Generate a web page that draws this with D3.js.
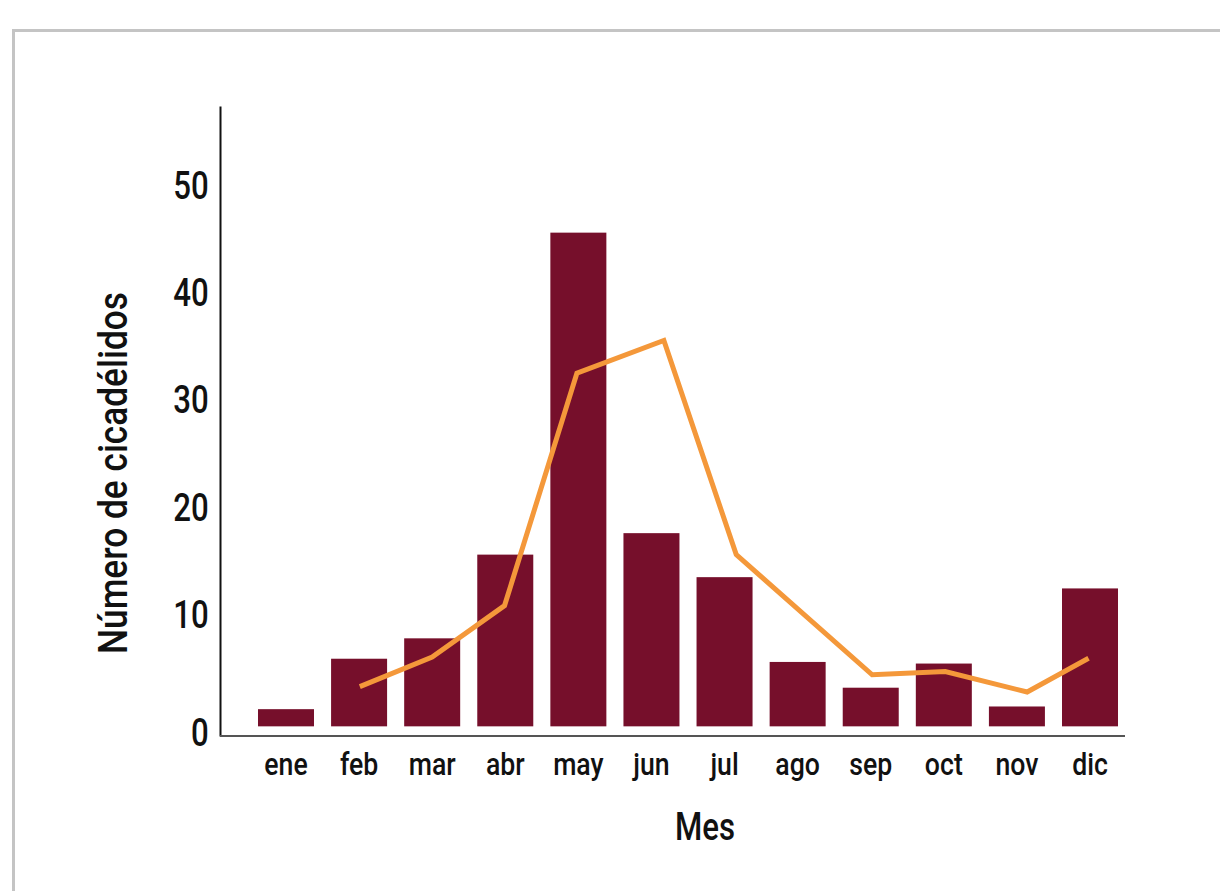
<!DOCTYPE html>
<html lang="es">
  <head>
    <meta charset="UTF-8" />
    <title>Cicadélidos por mes</title>
    <script src="https://d3js.org/d3.v7.min.js"></script>
    <style>
      body {
        margin: 0;
        background: #fff;
      }
      svg {
        display: block;
        font-family: Roboto, sans-serif;
        font-weight: 500;
      }
      .axis text {
        fill: #111;
      }
    </style>
  </head>
  <body>
    <svg id="chart" width="1220" height="891"></svg>

    <script>
      // Data
      const months = ["ene", "feb", "mar", "abr", "may", "jun", "jul", "ago", "sep", "oct", "nov", "dic"];
      const barValues = [1.6, 6.3, 8.2, 16.0, 46.0, 18.0, 13.9, 6.0, 3.6, 5.85, 1.85, 12.85];
      // line points sit at fractional month positions (0 = ene)
      const linePos = [1.01, 2.0, 2.99, 3.98, 5.17, 6.16, 8.02, 9.02, 10.14, 10.98];
      const lineValues = [3.7, 6.45, 11.25, 32.9, 35.95, 16.0, 4.8, 5.1, 3.2, 6.35];
      const yTicks = [0, 10, 20, 30, 40, 50];

      // narrow the glyphs, the original font is condensed
      const squeeze = "scale(0.8,1)";
      const squeezeWide = "scale(0.86,1)";

      const svg = d3.select("#chart");

      // outer frame
      svg
        .append("rect")
        .attr("x", 13.5)
        .attr("y", 30.5)
        .attr("width", 1300)
        .attr("height", 1000)
        .attr("fill", "none")
        .attr("stroke", "#c4c4c4")
        .attr("stroke-width", 3);

      const x = d3
        .scaleBand()
        .domain(months)
        .range([249.45, 1126.55])
        .paddingInner(0.2338)
        .paddingOuter(0.1169);

      const y = d3.scaleLinear().domain([-0.9, 57.8]).range([736, 106]);

      const xPos = d3
        .scaleLinear()
        .domain([0, months.length - 1])
        .range([x(months[0]) + x.bandwidth() / 2, x(months[11]) + x.bandwidth() / 2]);

      // bars
      svg
        .append("g")
        .selectAll("rect")
        .data(barValues)
        .enter()
        .append("rect")
        .attr("x", (d, i) => x(months[i]))
        .attr("y", (d) => y(d))
        .attr("width", x.bandwidth())
        .attr("height", (d) => y(0) - y(d))
        .attr("fill", "#760F2B");

      // line
      const line = d3
        .line()
        .x((d) => xPos(d[0]))
        .y((d) => y(d[1]));

      svg
        .append("path")
        .datum(linePos.map((p, i) => [p, lineValues[i]]))
        .attr("d", line)
        .attr("fill", "none")
        .attr("stroke", "#F4983A")
        .attr("stroke-width", 5)
        .attr("stroke-linejoin", "miter");

      // y axis
      const yAxis = svg
        .append("g")
        .attr("class", "axis")
        .attr("transform", "translate(220,0)")
        .call(d3.axisLeft(y).tickValues(yTicks).tickSize(0).tickPadding(14));

      yAxis.attr("font-family", null).attr("font-size", null);
      yAxis.select(".domain").attr("stroke", "#111").attr("stroke-width", 2);
      yAxis
        .selectAll(".tick text")
        .style("font-size", "39px")
        .attr("transform", squeeze)
        .attr("dy", (d) => (d === 0 ? "0.5em" : "0.22em"));

      // x axis
      const xAxis = svg
        .append("g")
        .attr("class", "axis")
        .attr("transform", `translate(0,${y(-0.9)})`)
        .call(d3.axisBottom(x).tickSize(0).tickPadding(17));

      xAxis.attr("font-family", null).attr("font-size", null);
      xAxis
        .select(".domain")
        .attr("d", `M220,0H1125`)
        .attr("stroke", "#555")
        .attr("stroke-width", 2);
      xAxis
        .selectAll(".tick text")
        .style("font-size", "31px")
        .attr("transform", squeezeWide)
        .attr("dy", "0.71em");

      // axis titles
      svg
        .append("text")
        .attr("transform", `translate(705,840) ${squeeze}`)
        .attr("text-anchor", "middle")
        .style("font-size", "39px")
        .style("fill", "#111")
        .text("Mes");

      svg
        .append("text")
        .attr("transform", `translate(127,473) rotate(-90) ${squeezeWide}`)
        .attr("text-anchor", "middle")
        .style("font-size", "41px")
        .style("fill", "#111")
        .text("Número de cicadélidos");
    </script>
  </body>
</html>
